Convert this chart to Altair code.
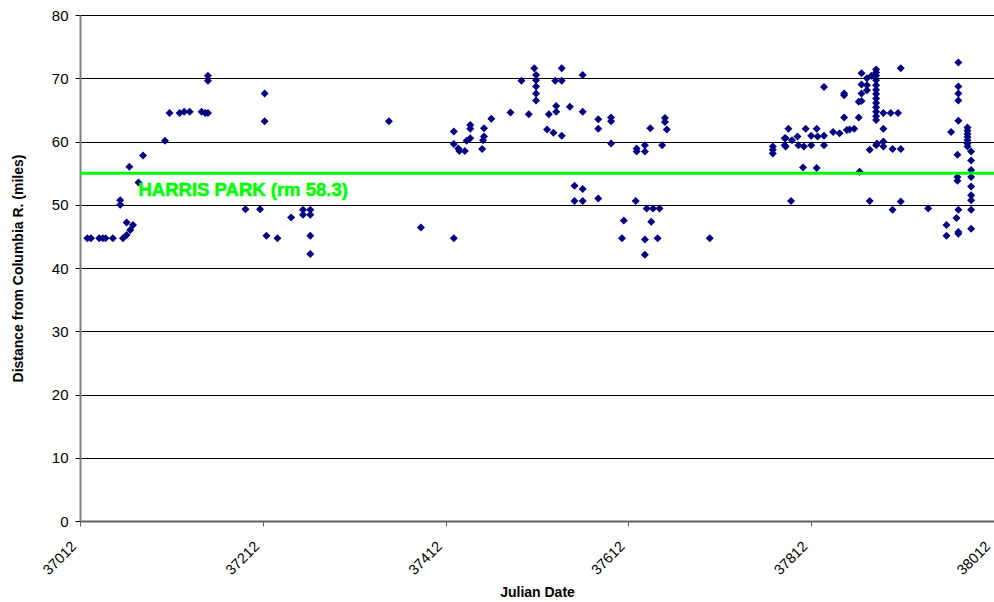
import altair as alt
import pandas as pd

# Julian dates and distances (miles)
days = [
    37020, 37024, 37033, 37037, 37040, 37048, 37059, 37063, 37070, 37067, 37063,
    37056, 37056, 37066, 37076, 37081, 37105, 37110, 37121, 37126, 37132, 37145,
    37149, 37152, 37152, 37152,
    37214, 37214, 37193, 37209, 37216, 37228, 37243, 37256, 37256, 37264, 37264,
    37264, 37264,
    37350, 37385, 37421,
    37421, 37421, 37426, 37427, 37433, 37435, 37439, 37439, 37439, 37452, 37453,
    37454, 37454, 37462, 37483, 37495, 37503, 37509, 37511, 37511, 37511, 37511,
    37511, 37523, 37525, 37530, 37533, 37533, 37532, 37539, 37539, 37539, 37548,
    37562, 37562, 37553, 37562, 37553, 37562, 37579, 37579, 37579, 37593, 37593,
    37593, 37605, 37607, 37620, 37621, 37621, 37630, 37630, 37632, 37630, 37630,
    37637, 37639, 37646, 37644, 37636, 37649, 37652, 37652, 37654,
    37701, 37770, 37770, 37770, 37790, 37787, 37783, 37783,
    37784, 37784, 37791, 37797, 37798, 37803, 37804, 37806, 37812, 37812, 37818,
    37818, 37819, 37826, 37826, 37826, 37836, 37848, 37848, 37848, 37843, 37851,
    37854, 37859, 37864, 37864, 37865, 37867, 37867, 37867, 37867, 37873, 37873,
    37873, 37876, 37876, 37878,
    37883, 37883, 37883, 37883, 37883, 37883, 37883, 37883, 37883, 37883, 37883,
    37883, 37883, 37883, 37884,
    37891, 37891, 37891, 37891, 37899, 37901, 37901, 37907, 37910, 37910, 37910,
    37940, 37960, 37960, 37965, 37972, 37972, 37972, 37973, 37973, 37973, 37973,
    37973, 37973, 37971, 37973, 37973,
    37983, 37983, 37983, 37983, 37983, 37983, 37983,
    37987, 37987, 37987, 37987, 37987, 37987, 37987, 37987, 37987,
]
miles = [
    44.7, 44.7, 44.7, 44.7, 44.7, 44.7, 44.7, 47.2, 46.8, 46.0, 45.2,
    50.7, 50.0, 56.0, 53.5, 57.8, 60.1, 64.5, 64.5, 64.7, 64.7, 64.7,
    64.5, 64.5, 70.4, 69.6,
    67.6, 63.2, 49.3, 49.3, 45.1, 44.7, 48.0, 49.2, 48.4, 49.2, 48.4,
    45.1, 42.2,
    63.2, 46.4, 44.7,
    61.6, 59.6, 58.9, 58.5, 58.5, 60.1, 60.5, 62.0, 62.6, 58.8, 60.2,
    60.8, 62.1, 63.6, 64.6, 69.6, 64.3, 71.6, 70.5, 69.7, 68.7, 67.6,
    66.5, 61.9, 64.3, 61.4, 65.6, 64.7, 69.6, 69.6, 71.6, 60.9, 65.5,
    70.5, 64.7, 53.0, 52.5, 50.6, 50.6, 51.0, 63.5, 62.0, 63.8, 63.2,
    59.7, 44.7, 47.5, 50.6, 58.9, 58.4, 59.4, 58.4, 49.4, 44.5, 42.1,
    47.3, 49.4, 49.4, 44.7, 62.1, 59.4, 63.7, 63.1, 61.9,
    44.7, 59.2, 58.7, 58.1, 50.6, 62.0, 60.5, 59.4,
    60.5, 59.2, 60.2, 60.8, 59.4, 55.9, 59.2, 62.0, 60.9, 59.4, 55.8,
    62.0, 60.8, 68.6, 60.9, 59.4, 61.5, 63.8, 67.6, 67.3, 61.3, 61.8,
    61.9, 62.0, 63.8, 66.3, 55.2, 70.8, 69.0, 67.6, 66.4, 70.0, 68.9,
    68.1, 58.7, 50.6, 70.4,
    71.4, 70.9, 70.4, 69.7, 68.9, 68.2, 67.5, 66.8, 66.1, 65.4, 64.7,
    64.0, 63.4, 59.4, 59.7,
    64.5, 62.0, 60.0, 59.2, 64.5, 58.8, 49.2, 64.5, 71.6, 58.8, 50.5,
    49.4, 46.8, 45.1, 61.5, 57.9, 54.4, 53.8, 72.5, 68.7, 67.6, 66.5,
    63.3, 49.2, 47.9, 45.7, 45.4,
    62.2, 61.7, 61.2, 60.7, 60.2, 59.7, 59.2,
    58.4, 57.0, 55.5, 54.4, 52.9, 51.5, 50.7, 49.2, 46.2,
]

x_ticks = [37012, 37212, 37412, 37612, 37812, 38012]
y_ticks = [0, 10, 20, 30, 40, 50, 60, 70, 80]
ref_level = [55.0]
label_text = ["HARRIS PARK (rm 58.3)"]
label_x = [37076]
label_y = [52.3]

df = pd.DataFrame({"day": days, "miles": miles})
ref_df = pd.DataFrame({"level": ref_level})
lab_df = pd.DataFrame({"day": label_x, "miles": label_y, "text": label_text})

xscale = alt.Scale(domain=[37012, 38012], nice=False, zero=False)
yscale = alt.Scale(domain=[0, 80], nice=False)

points = alt.Chart(df).mark_point(
    shape="diamond", filled=True, color="#000080", size=64, opacity=1
).encode(
    x=alt.X("day:Q", scale=xscale, title="Julian Date",
            axis=alt.Axis(values=x_ticks, format="d", labelAngle=315,
                          labelAlign="right", labelBaseline="middle",
                          labelOffset=-6,
                          grid=False, tickColor="#606060", tickSize=5,
                          domainColor="#606060", domainWidth=2,
                          labelFont="Liberation Sans",
                          labelFontSize=14.5, labelColor="#000000",
                          labelPadding=18,
                          titleFont="Liberation Sans", titleFontSize=14,
                          titleFontWeight="bold", titleY=71,
                          titleBaseline="middle",
                          titleColor="#000000")),
    y=alt.Y("miles:Q", scale=yscale,
            title="Distance from Columbia R. (miles)",
            axis=alt.Axis(values=y_ticks, grid=True, gridColor="#000000",
                          gridWidth=1, tickColor="#000000", tickSize=5,
                          domainColor="#808080", domainWidth=2,
                          labelFont="Liberation Sans", labelFontSize=15,
                          labelColor="#000000", labelPadding=7,
                          titleFont="Liberation Sans", titleFontSize=14,
                          titleFontWeight="bold", titleX=-62,
                          titleBaseline="middle",
                          titleColor="#000000")),
)

rule = alt.Chart(ref_df).mark_rule(color="#00FF00", strokeWidth=3).encode(
    y=alt.Y("level:Q", scale=yscale)
)

label = alt.Chart(lab_df).mark_text(
    align="left", baseline="middle", color="#00FF00",
    font="Liberation Sans", fontSize=18.5, fontWeight="bold",
    stroke="#00FF00", strokeWidth=0.6
).encode(
    x=alt.X("day:Q", scale=xscale),
    y=alt.Y("miles:Q", scale=yscale),
    text="text:N",
)

chart = alt.layer(points, rule, label).properties(
    width=914, height=506,
    autosize=alt.AutoSizeParams(type="none"),
    padding={"left": 80, "top": 15, "right": 0, "bottom": 81},
).configure_view(stroke=None).configure(background="white")

chart.save("out.html", embed_options={"renderer": "svg", "actions": False})
